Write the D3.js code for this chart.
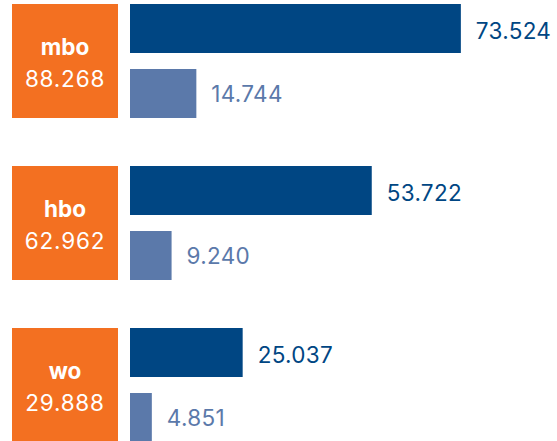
<!DOCTYPE html>
<html>
<head>
<meta charset="utf-8">
<script src="https://cdn.jsdelivr.net/npm/d3@7"></script>
<style>
  html, body { margin: 0; padding: 0; background: #fff; }
  svg { display: block; }
  text { font-family: Inter, "Noto Sans", sans-serif; }
</style>
</head>
<body>
<svg id="chart" width="557" height="441"></svg>
<script>
const categories = ["mbo", "hbo", "wo"];
const totals = [88.268, 62.962, 29.888];
const seriesA = [73.524, 53.722, 25.037];
const seriesB = [14.744, 9.240, 4.851];

const fmt = v => d3.format(".3f")(v);

const svg = d3.select("#chart");

const y = d3.scaleBand().domain(categories).range([4, 442]).paddingInner(48 / 162).paddingOuter(0);
const x = d3.scaleLinear().domain([0, 100]).range([130, 580]);

const barH = 49, gap = 16;
const orange = "#F37021", dark = "#004683", light = "#5B79AA";
const FS = 22.5;

const data = categories.map((c, i) => ({ c, t: totals[i], a: seriesA[i], b: seriesB[i] }));

const g = svg.selectAll("g.grp").data(data).join("g").attr("class", "grp")
  .attr("transform", d => `translate(0,${y(d.c)})`);

g.append("rect").attr("x", 12).attr("y", 0).attr("width", 106).attr("height", y.bandwidth()).attr("fill", orange);

g.append("text").attr("x", 65).attr("y", 51).attr("text-anchor", "middle")
  .attr("fill", "#fff").attr("font-size", FS).attr("font-weight", 700).text(d => d.c);
g.append("text").attr("x", 65).attr("y", 83).attr("text-anchor", "middle")
  .attr("fill", "#fff").attr("font-size", FS).attr("font-weight", 400).attr("letter-spacing", 0.8).text(d => fmt(d.t));

g.append("rect").attr("x", x(0)).attr("y", 0).attr("width", d => x(d.a) - x(0)).attr("height", barH).attr("fill", dark);
g.append("rect").attr("x", x(0)).attr("y", barH + gap).attr("width", d => x(d.b) - x(0)).attr("height", barH).attr("fill", light);

g.append("text").attr("x", d => x(d.a) + 15).attr("y", barH / 2 + 10.5)
  .attr("fill", dark).attr("font-size", FS).attr("font-weight", 400).attr("letter-spacing", 0.3).text(d => fmt(d.a));
g.append("text").attr("x", d => x(d.b) + 15).attr("y", barH + gap + barH / 2 + 8)
  .attr("fill", light).attr("font-size", FS).attr("font-weight", 400).attr("letter-spacing", 0.3).text(d => fmt(d.b));
</script>
</body>
</html>
